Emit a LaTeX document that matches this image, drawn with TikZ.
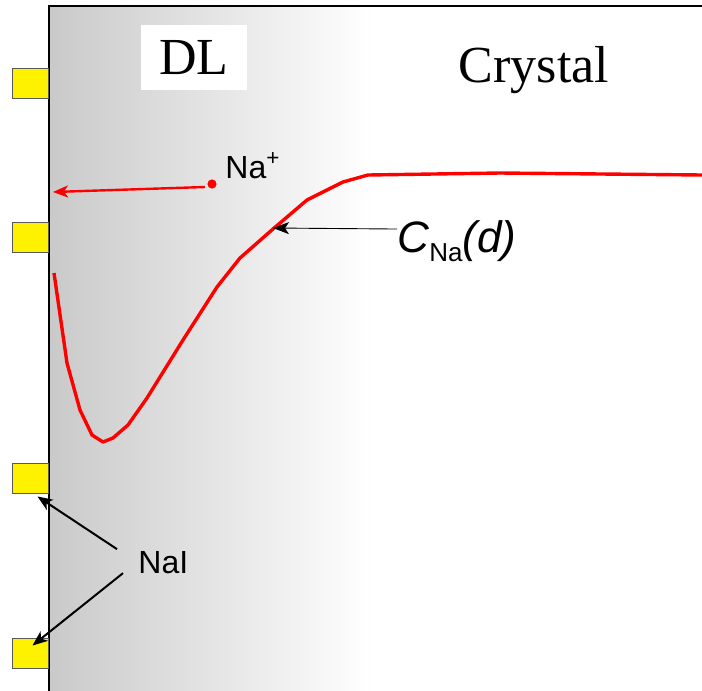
\documentclass[tikz,border=0pt]{standalone}
\usepackage{fontspec}
\setmainfont{Liberation Serif}
\setsansfont{Liberation Sans}
\usetikzlibrary{arrows.meta, calc}

\begin{document}
\begin{tikzpicture}[
    x=0.5pt, y=-0.5pt,
    pad/.style={draw=black!65, line width=0.5pt, fill=yellow, minimum width=18pt, minimum height=15pt, inner sep=0pt},
    title/.style={font=\fontsize{26}{30}\selectfont, inner sep=0pt},
    lab/.style={font=\sffamily\fontsize{16}{19}\selectfont, inner sep=0pt},
    arr/.style={-{Stealth[length=7.5pt, width=6pt, inset=2pt]}, line width=1pt},
    thinarr/.style={-{Stealth[length=8pt, width=6pt, inset=2pt]}, line width=0.45pt},
    profile/.style={red, line width=1.7pt, line join=round}
]
\useasboundingbox (0,0) rectangle (702,691);
\shade[left color=black!21, right color=white] (49,6) rectangle (372,691);
\draw[line width=1.1pt] (49,691) -- (49,6) -- (702,6);

\node[title, fill=white, minimum width=53pt, minimum height=32.5pt] (dl) at (194,57.5) {DL};
\node[title, anchor=base] (crys) at (534,82) {Crystal};

\node[pad] (sq1) at (30,83) {};
\node[pad] (sq2) at (30,237) {};
\node[pad] (sq3) at (30,478) {};
\node[pad] (sq4) at (30,653) {};

\draw[profile] (54,273) -- (67,363) -- (80,410) -- (92,435) -- (103,442) -- (113,438)
  -- (128,425) -- (147,398) -- (183,340) -- (217,287) -- (240,258) -- (273,229)
  -- (307,200) -- (343,182) -- (368,175) -- (500,173) -- (702,175);

\fill[red] (212,184) circle (2.3pt);
\node[lab, anchor=base west] (na) at (225,178) {Na\textsuperscript{+}};
\coordinate (wall) at (53,192);
\draw[arr, red, line width=1.2pt] (205,187) -- (wall);

\node[lab, font=\sffamily\fontsize{22}{26}\selectfont, anchor=base west] (cna) at (397,252)
  {\textit{C}\raisebox{-0.22em}{\fontsize{13}{15}\selectfont Na}\textit{(d)}};
\coordinate (hit) at (273,228);
\draw[thinarr] (cna.west) ++(0,-12) -- (hit);

\node[lab, anchor=base west] (nai) at (138,573) {NaI};
\draw[arr] ($(nai.west)+(-21,-13)$) -- ($(sq3.south east)+(-11,3)$);
\draw[arr] ($(nai.west)+(-15,11)$) -- ($(sq4.north west)+(21,8)$);
\end{tikzpicture}
\end{document}
